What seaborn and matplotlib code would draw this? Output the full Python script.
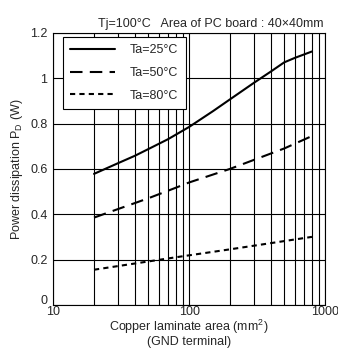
import matplotlib
matplotlib.use("Agg")
import matplotlib.pyplot as plt
import matplotlib.transforms as mtransforms
import seaborn as sns
import pandas as pd
import numpy as np
from matplotlib.ticker import FixedLocator, NullFormatter, FixedFormatter

sns.set_style("white")
plt.rcParams['font.family'] = ['Liberation Sans', 'DejaVu Sans']

area_25 = [20, 30, 40, 50, 70, 100, 150, 200, 300, 400, 500, 600, 800]
pd_25 = [0.578, 0.625, 0.658, 0.687, 0.731, 0.785, 0.855, 0.907, 0.98, 1.03, 1.07, 1.09, 1.118]
area_50 = [20, 50, 80, 100, 200, 500, 800]
pd_50 = [0.385, 0.47, 0.517, 0.54, 0.60, 0.69, 0.745]
area_80 = [20, 80, 200, 800]
pd_80 = [0.155, 0.21, 0.245, 0.30]
labels = ["Ta=25°C", "Ta=50°C", "Ta=80°C"]

df = pd.concat([
    pd.DataFrame({"area": area_25, "pd": pd_25, "series": labels[0]}),
    pd.DataFrame({"area": area_50, "pd": pd_50, "series": labels[1]}),
    pd.DataFrame({"area": area_80, "pd": pd_80, "series": labels[2]}),
])

fig = plt.figure(figsize=(3.38, 3.50), dpi=100)
ax = fig.add_axes([0.157, 0.129, 0.805, 0.777])

sns.lineplot(data=df, x="area", y="pd", style="series", hue="series",
             palette=["black"] * 3,
             dashes={labels[0]: "", labels[1]: (6, 3.5), labels[2]: (2.5, 2)},
             linewidth=1.5, ax=ax, sort=True, estimator=None)

ax.set_xscale("log")
ax.set_xlim(10, 1000)
ax.set_ylim(0, 1.2)
ax.xaxis.set_major_locator(FixedLocator([10, 100, 1000]))
ax.xaxis.set_major_formatter(FixedFormatter(["10", "100", "1000"]))
minor = [v * d for d in (10, 100) for v in range(2, 10)]
ax.xaxis.set_minor_locator(FixedLocator(minor))
ax.xaxis.set_minor_formatter(NullFormatter())
ax.set_yticks([0, 0.2, 0.4, 0.6, 0.8, 1.0, 1.2])
ax.set_yticklabels(["0", "0.2", "0.4", "0.6", "0.8", "1", "1.2"])
ax.grid(True, which="both", color="black", linewidth=0.8)
ax.tick_params(axis="both", which="both", length=0, labelsize=9)
ax.tick_params(axis="x", pad=1)
ax.tick_params(axis="y", pad=4)
for s in ax.spines.values():
    s.set_color("black")
    s.set_linewidth(0.8)

# raise the "0" y tick label slightly, as in the reference
ylab0 = ax.get_yticklabels()[0]
ylab0.set_transform(ylab0.get_transform() + mtransforms.ScaledTranslation(0, 4 / 72, fig.dpi_scale_trans))

ax.set_xlabel("Copper laminate area (mm$^\\mathregular{2}$)\n(GND terminal)", fontsize=9,
              labelpad=0, linespacing=0.95)
ax.set_ylabel("Power dissipation P$_\\mathregular{D}$ (W)", fontsize=9, labelpad=4)

ax.text(0.995, 1.012, "Tj=100°C   Area of PC board : 40×40mm", transform=ax.transAxes,
        ha="right", va="bottom", fontsize=9)

leg = ax.legend(loc="upper left", bbox_to_anchor=(0.035, 0.985), handlelength=3.6,
                fontsize=9, frameon=True, fancybox=False, framealpha=1,
                edgecolor="black", borderpad=0.6, labelspacing=0.85, handletextpad=1.2,
                borderaxespad=0, title=None)
leg.get_frame().set_linewidth(0.8)

fig.savefig("out.png", dpi=100)
